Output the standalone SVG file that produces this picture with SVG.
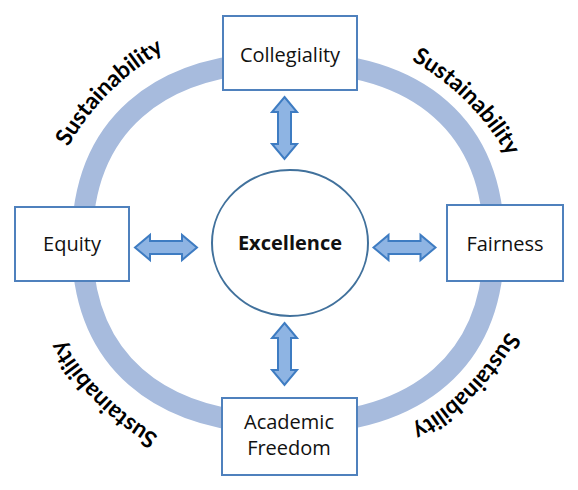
<svg xmlns="http://www.w3.org/2000/svg" xmlns:xlink="http://www.w3.org/1999/xlink" width="578" height="490" viewBox="0 0 578 490">
<style>
.box{fill:#ffffff;stroke:#4F81BD;stroke-width:2}
.lbl{font-family:"Open Sans","Liberation Sans",sans-serif;font-size:20px;fill:#111;text-anchor:middle}
.bold{font-weight:bold}
.sus{font-family:Lato,"Open Sans","Liberation Sans",sans-serif;font-size:23px;font-weight:bold;fill:#000}
.arrow{fill:#8EB4E3;stroke:#3E7CC2;stroke-width:2;stroke-linejoin:miter}
</style>
<defs>
<path id="dbl" d="M -31 0 L -16 -12.5 L -16 -6.5 L 16 -6.5 L 16 -12.5 L 31 0 L 16 12.5 L 16 6.5 L -16 6.5 L -16 12.5 Z"/>
<path id="arcTL" d="M 42.8 208.2 A 258 258 0 0 1 225.2 25.8"/>
<path id="arcTR" d="M 353.2 36.6 A 252 252 0 0 1 531.4 214.8"/>
<path id="arcBR" d="M 531.4 273.2 A 252 252 0 0 1 353.2 451.4"/>
<path id="arcBL" d="M 220.7 461.1 A 260 260 0 0 1 36.9 277.3"/>
</defs>
<rect width="578" height="490" fill="#ffffff"/>
<g id="ring">
<path d="M 494 243 C 494 358.8, 419.8 424, 288 424 C 156.2 424, 82 358.8, 82 243 C 82 127.2, 156.2 62, 288 62 C 419.8 62, 494 127.2, 494 243 Z" fill="none" stroke="#A7BBDD" stroke-width="21"/>
</g>
<g id="sustainability-labels">
<text class="sus"><textPath xlink:href="#arcTL" href="#arcTL" startOffset="50%" text-anchor="middle">Sustainability</textPath></text>
<text class="sus"><textPath xlink:href="#arcTR" href="#arcTR" startOffset="50%" text-anchor="middle">Sustainability</textPath></text>
<text class="sus"><textPath xlink:href="#arcBR" href="#arcBR" startOffset="50%" text-anchor="middle">Sustainability</textPath></text>
<text class="sus"><textPath xlink:href="#arcBL" href="#arcBL" startOffset="50%" text-anchor="middle">Sustainability</textPath></text>
</g>
<g id="connectors">
<use href="#dbl" class="arrow" transform="translate(284.5,128) rotate(90)"/>
<use href="#dbl" class="arrow" transform="translate(284.5,354) rotate(90)"/>
<use href="#dbl" class="arrow" transform="translate(166,247.5)"/>
<use href="#dbl" class="arrow" transform="translate(404.5,247.5)"/>
</g>
<g id="node-collegiality">
<rect class="box" x="223" y="16" width="134" height="74"/>
<text class="lbl" x="290" y="62">Collegiality</text>
</g>
<g id="node-equity">
<rect class="box" x="15" y="207" width="114" height="74"/>
<text class="lbl" x="72" y="251">Equity</text>
</g>
<g id="node-fairness">
<rect class="box" x="447" y="205" width="116" height="76"/>
<text class="lbl" x="505" y="251">Fairness</text>
</g>
<g id="node-academic-freedom">
<rect class="box" x="222" y="398" width="135" height="77"/>
<text class="lbl" x="289" y="429">Academic</text>
<text class="lbl" x="289" y="455">Freedom</text>
</g>
<g id="node-excellence">
<ellipse cx="290" cy="243" rx="78" ry="73" fill="#ffffff" stroke="#41719C" stroke-width="2"/>
<text class="lbl bold" x="290" y="250">Excellence</text>
</g>
</svg>
